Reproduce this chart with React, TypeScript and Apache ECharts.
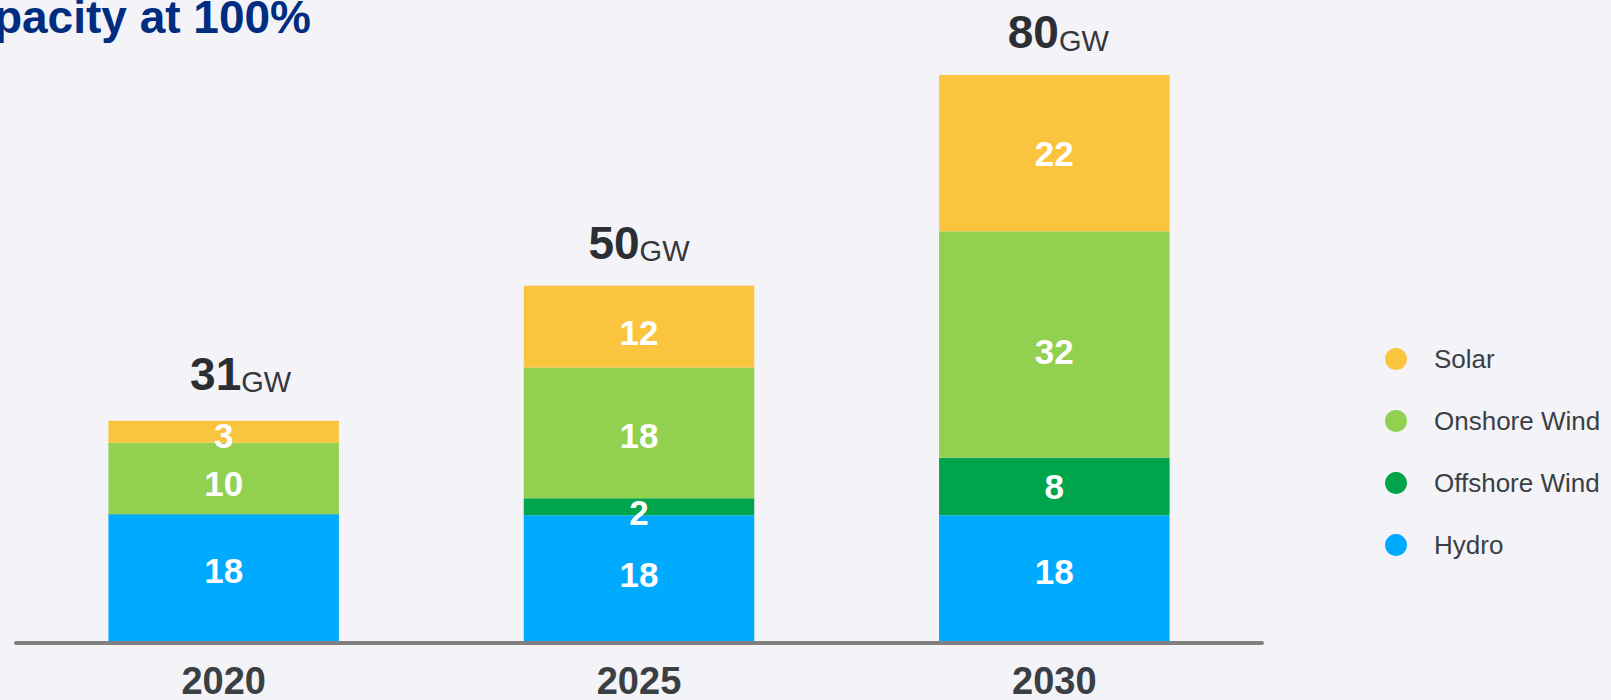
import React, { useEffect, useRef } from "react";
import * as echarts from "echarts";

const categories = ["2020", "2025", "2030"];
const hydro = [18.1, 18, 18];
const offshoreWind = [0.1, 2.4, 8.1];
const onshoreWind = [10, 18.4, 31.9];
const solar = [3.1, 11.5, 22];
const totalLabels = [31, 50, 80];
const legendOrder = ["Solar", "Onshore Wind", "Offshore Wind", "Hydro"];

// label style offsets (px), kept apart from the data
const totalLabelOffset = [[17, -4], [0, 0], [4, 0]];
const innerLabelOffsetY: Record<string, number[]> = {
  Hydro: [-8, -5, -8],
  "Offshore Wind": [0, 6, 0],
  "Onshore Wind": [5, 3, 7],
  Solar: [4, 6, 0],
};

const FONT = "'Liberation Sans', Arial, Helvetica, sans-serif";
const COLORS: Record<string, string> = {
  Solar: "#FBC43F",
  "Onshore Wind": "#92D050",
  "Offshore Wind": "#00A44A",
  Hydro: "#00AAFF",
};

export default function App() {
  const ref = useRef<HTMLDivElement>(null);

  useEffect(() => {
    if (!ref.current) return;
    const chart = echarts.init(ref.current, undefined, { renderer: "svg" });

    const innerLabel = {
      show: true,
      position: "inside",
      color: "#ffffff",
      fontFamily: FONT,
      fontWeight: "bold",
      fontSize: 35,
      formatter: (p: any) => String(Math.round(p.value)),
    };

    const mkBar = (name: string, data: number[], showLabel: boolean[] = [true, true, true]) => ({
      name,
      type: "bar",
      stack: "cap",
      barWidth: "55.5%",
      itemStyle: { color: COLORS[name] },
      data: data.map((v, i) => ({
        value: v,
        label: { show: showLabel[i], offset: [0, innerLabelOffsetY[name][i]] },
      })),
      label: innerLabel,
      emphasis: { disabled: true },
    });

    const sums = categories.map(
      (_, i) => hydro[i] + offshoreWind[i] + onshoreWind[i] + solar[i]
    );

    chart.setOption({
      animation: false,
      backgroundColor: "#f3f3f8",
      textStyle: { fontFamily: FONT },
      grid: { left: 16, right: 349, top: 75, bottom: 56 },
      legend: {
        data: legendOrder,
        orient: "vertical",
        left: 1380,
        top: 341,
        icon: "circle",
        itemWidth: 22,
        itemHeight: 22,
        itemGap: 36,
        selectedMode: false,
        textStyle: {
          fontFamily: FONT,
          fontSize: 26,
          color: "#3a3f44",
          padding: [0, 0, 0, 22],
        },
      },
      xAxis: {
        type: "category",
        data: categories,
        z: 10,
        axisTick: { show: false },
        axisLine: { lineStyle: { color: "#808080", width: 4 } },
        axisLabel: {
          margin: 19,
          fontFamily: FONT,
          fontWeight: "bold",
          fontSize: 38,
          color: "#3a3f44",
        },
      },
      yAxis: {
        type: "value",
        min: 0,
        max: 80,
        show: false,
        splitLine: { show: false },
      },
      series: [
        mkBar("Hydro", hydro),
        mkBar("Offshore Wind", offshoreWind, [false, true, true]),
        mkBar("Onshore Wind", onshoreWind),
        mkBar("Solar", solar),
        {
          name: "Total",
          type: "scatter",
          symbolSize: 0,
          silent: true,
          itemStyle: { opacity: 1 },
          data: sums.map((s, i) => ({
            value: s,
            label: { offset: totalLabelOffset[i] },
          })),
          label: {
            show: true,
            position: "top",
            distance: 20,
            opacity: 1,
            formatter: (p: any) => `{a|${totalLabels[p.dataIndex]}}{b|GW}`,
            rich: {
              a: {
                fontFamily: FONT,
                fontWeight: "bold",
                fontSize: 46,
                color: "#2b2f33",
                lineHeight: 46,
                verticalAlign: "bottom",
              },
              b: {
                fontFamily: FONT,
                fontSize: 29,
                color: "#33373b",
                lineHeight: 34,
                verticalAlign: "bottom",
              },
            },
          },
        },
      ],
      graphic: [
        {
          type: "text",
          x: 311,
          y: 17,
          style: {
            text: "Capacity at 100%",
            font: `bold 46px ${FONT}`,
            fill: "#002D80",
            textAlign: "right",
            textVerticalAlign: "middle",
          },
        },
      ],
    });

    return () => chart.dispose();
  }, []);

  return (
    <div
      ref={ref}
      style={{ position: "fixed", left: 0, top: 0, width: 1611, height: 700 }}
    />
  );
}
